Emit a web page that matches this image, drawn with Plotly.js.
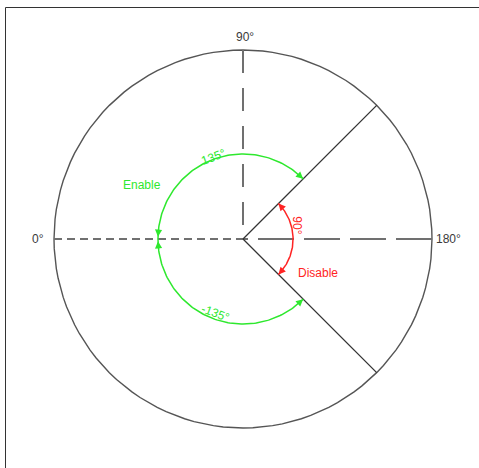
<!DOCTYPE html>
<html>
<head>
<meta charset="utf-8">
<script src="https://cdn.plot.ly/plotly-3.0.1.min.js"></script>
<style>html,body{margin:0;padding:0;background:#fff;}#chart{width:479px;height:468px;}</style>
</head>
<body>
<div id="chart"></div>
<script>
// Angles in the chart's own convention: 0° at left, 90° at top, 180° at right
const axisLabels = ['0°', '90°', '180°'];
const axisAngles = [0, 90, 180];
const boundaryAngles = [135, -135];          // rays limiting the disable sector
const enableArcs = [[0, 135], [0, -135]];    // green arcs (start, end)
const enableArcLabels = ['135°', '-135°'];
const disableArc = [135, 225];               // red arc
const disableArcLabel = '90°';
const regionLabels = ['Enable', 'Disable'];
const outerRadius = 1;
const enableRadius = 0.45;
const disableRadius = 0.265;

const GREEN = '#2ee82e', RED = '#ff2424', GREY = '#666', DARK = '#333';

// convert chart angle (deg) to math angle (rad)
function rad(a) { return (180 - a) * Math.PI / 180; }
function pt(a, r) { return [r * Math.cos(rad(a)), r * Math.sin(rad(a))]; }
function arc(a0, a1, r) {
  const xs = [], ys = [], n = 120;
  for (let i = 0; i <= n; i++) {
    const a = a0 + (a1 - a0) * i / n;
    const p = pt(a, r); xs.push(p[0]); ys.push(p[1]);
  }
  return {xs, ys};
}

const traces = [];
// outer circle
const c = arc(0, 360, outerRadius);
traces.push({x: c.xs, y: c.ys, mode: 'lines', line: {color: '#555', width: 1.4}, hoverinfo: 'skip'});
// reference dashed lines: left half (0°), right half (180°), up (90°)
const p0 = pt(axisAngles[0], outerRadius), p90 = pt(axisAngles[1], outerRadius), p180 = pt(axisAngles[2], outerRadius);
traces.push({x: [p0[0], 0], y: [p0[1], 0], mode: 'lines', line: {color: '#707070', width: 2, dash: '8px,5px'}, hoverinfo: 'skip'});
traces.push({x: [p180[0], 0], y: [p180[1], 0], mode: 'lines', line: {color: '#707070', width: 2, dash: '36px,10px'}, hoverinfo: 'skip'});
traces.push({x: [p90[0], 0], y: [p90[1], 0], mode: 'lines', line: {color: '#707070', width: 2, dash: '23px,15px'}, hoverinfo: 'skip'});
// boundary rays
boundaryAngles.forEach(a => {
  const p = pt(a, outerRadius);
  traces.push({x: [0, p[0]], y: [0, p[1]], mode: 'lines', line: {color: DARK, width: 1.3}, hoverinfo: 'skip'});
});
// enable arcs
enableArcs.forEach(([a0, a1]) => {
  const g = arc(a0, a1, enableRadius);
  traces.push({x: g.xs, y: g.ys, mode: 'lines', line: {color: GREEN, width: 1.5}, hoverinfo: 'skip'});
});
// disable arc
const d = arc(disableArc[0], disableArc[1], disableRadius);
traces.push({x: d.xs, y: d.ys, mode: 'lines', line: {color: RED, width: 1.5}, hoverinfo: 'skip'});

const annotations = [];
function arrow(a, r, dir, color) {
  const tip = pt(a, r), tail = pt(a - dir * 6, r);
  annotations.push({x: tip[0], y: tip[1], ax: tail[0], ay: tail[1], xref: 'x', yref: 'y', axref: 'x', ayref: 'y',
    text: '', showarrow: true, arrowhead: 2, arrowsize: 1.1, arrowwidth: 1.3, arrowcolor: color});
}
enableArcs.forEach(([a0, a1]) => {
  const s = Math.sign(a1 - a0);
  arrow(a1, enableRadius, s, GREEN);
  arrow(a0 + s * 1.5, enableRadius, -s, GREEN);
});
arrow(disableArc[1], disableRadius, 1, RED);
arrow(disableArc[0], disableRadius, -1, RED);

const tfont = {family: 'Liberation Sans, Arial, sans-serif', size: 12, color: '#3a3a3a'};
// axis labels
annotations.push({x: p0[0] - 0.04, y: p0[1], text: axisLabels[0], xanchor: 'right', yanchor: 'middle', showarrow: false, font: tfont});
annotations.push({x: p90[0] + 0.01, y: p90[1] + 0.02, text: axisLabels[1], xanchor: 'center', yanchor: 'bottom', showarrow: false, font: tfont});
annotations.push({x: p180[0] + 0.01, y: p180[1], text: axisLabels[2], xanchor: 'left', yanchor: 'middle', showarrow: false, font: tfont});
// arc labels
annotations.push({x: -0.158, y: 0.434, text: enableArcLabels[0], textangle: -20, showarrow: false,
  font: {family: tfont.family, size: 12, color: GREEN}});
annotations.push({x: -0.148, y: -0.392, text: enableArcLabels[1], textangle: 20, showarrow: false,
  font: {family: tfont.family, size: 12, color: GREEN}});
annotations.push({x: 0.288, y: 0.07, text: disableArcLabel, textangle: 90, showarrow: false,
  font: {family: tfont.family, size: 12, color: RED}});
annotations.push({x: -0.534, y: 0.286, text: regionLabels[0], showarrow: false,
  font: {family: tfont.family, size: 12, color: GREEN}});
annotations.push({x: 0.397, y: -0.18, text: regionLabels[1], showarrow: false,
  font: {family: tfont.family, size: 12, color: RED}});

const W = 479, H = 468, S = 189, CX = 243, CY = 239;
const layout = {
  width: W, height: H, margin: {l: 0, r: 0, t: 0, b: 0},
  paper_bgcolor: '#fff', plot_bgcolor: '#fff', showlegend: false,
  xaxis: {range: [-CX / S, (W - CX) / S], visible: false, fixedrange: true},
  yaxis: {range: [-(H - CY) / S, CY / S], visible: false, fixedrange: true},
  annotations: annotations,
  shapes: [{type: 'path', xref: 'paper', yref: 'paper',
    path: `M ${5.5 / W} 0 L ${5.5 / W} ${1 - 7.5 / H} L 1 ${1 - 7.5 / H}`,
    line: {color: '#333', width: 1}}]
};
Plotly.newPlot('chart', traces, layout, {staticPlot: true, displayModeBar: false});
</script>
</body>
</html>
